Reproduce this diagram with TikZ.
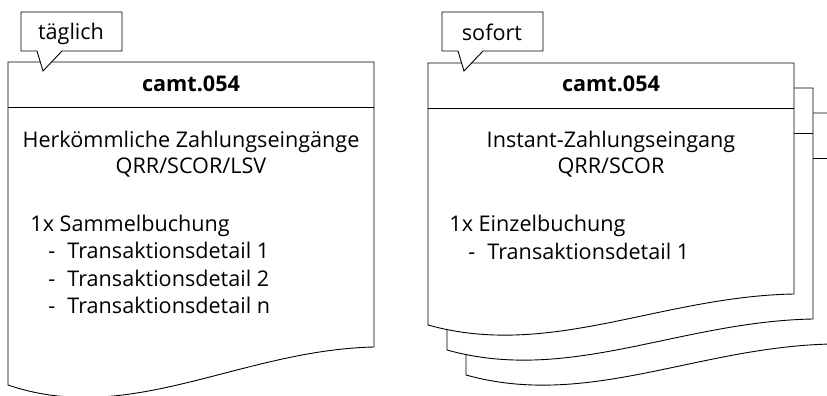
\documentclass[tikz,border=0pt]{standalone}
\usepackage{fontspec}
\setmainfont{Open Sans}

% eine Seite: #1 x links, #2 y oben, #3 Hoehe links, #4 Anstieg rechts
\newcommand{\docpage}[4]{%
  \pgfmathsetmacro{\dpR}{#1+366}%
  \pgfmathsetmacro{\dpH}{#2+45}%
  \pgfmathsetmacro{\dpL}{#2+#3}%
  \pgfmathsetmacro{\dpRb}{#2+#3-#4}%
  \pgfmathsetmacro{\dpAx}{#1+122}%
  \pgfmathsetmacro{\dpAy}{#2+#3+1.1*#4}%
  \pgfmathsetmacro{\dpBx}{#1+232}%
  \pgfmathsetmacro{\dpBy}{#2+#3-0.92*#4}%
  \filldraw[page] (#1,#2) -- (\dpR,#2) -- (\dpR,\dpRb)
    .. controls (\dpBx,\dpBy) and (\dpAx,\dpAy) .. (#1,\dpL) -- cycle;
  \draw (#1,\dpH) -- (\dpR,\dpH);}

% Sprechblase: #1 x links
\newcommand{\callbox}[1]{%
  \filldraw[page] (#1,12) -- ++(101,0) -- ++(0,39) -- ++(-60,0)
    -- ++(-19,20) -- ++(-6,-20) -- (#1,51) -- cycle;}

\begin{document}
\begin{tikzpicture}[x=1pt,y=-1pt,line width=0.9pt,
  page/.style={draw=black,fill=white},
  lbl/.style={inner sep=0pt,anchor=base,font=\fontsize{21.6}{27}\selectfont},
  lblL/.style={lbl,anchor=base west},
  head/.style={lbl,font=\fontsize{21.6}{27}\selectfont\bfseries}]
\useasboundingbox (0,0) rectangle (827,396);
\clip (0,0) rectangle (827,396);
\def\dash{\makebox[19pt][l]{-}}

% Stapel rechts, von hinten nach vorne
\docpage{466}{113}{262}{31}
\docpage{447}{88}{262}{31}
\docpage{428}{63}{262}{31}
% links
\docpage{8}{62}{323}{38}

\callbox{21}
\callbox{442}

\node[lbl] (tagA) at (71,40) {täglich};
\node[lbl] (tagB) at (492,41) {sofort};

% linkes Dokument
\node[head] (kopfA) at (191,91.7) {camt.054};
\node[lbl] (titelA) at (191,147) {Herkömmliche Zahlungseingänge};
\node[lbl] (artA) at (191,173) {QRR/SCOR/LSV};
\node[lblL] (buchA) at (30,231.7) {1x Sammelbuchung};
\foreach \i/\t in {1/1,2/2,3/n}
  \node[lblL] (detA\i) at (48,{231.7+27.2*\i}) {\dash Transaktionsdetail \t};

% rechtes Dokument
\node[head] (kopfB) at (611,91.7) {camt.054};
\node[lbl] (titelB) at (611,147) {Instant-Zahlungseingang};
\node[lbl] (artB) at (611,173) {QRR/SCOR};
\node[lblL] (buchB) at (449,231.7) {1x Einzelbuchung};
\node[lblL] (detB1) at (468,259) {\dash Transaktionsdetail 1};
\end{tikzpicture}
\end{document}
